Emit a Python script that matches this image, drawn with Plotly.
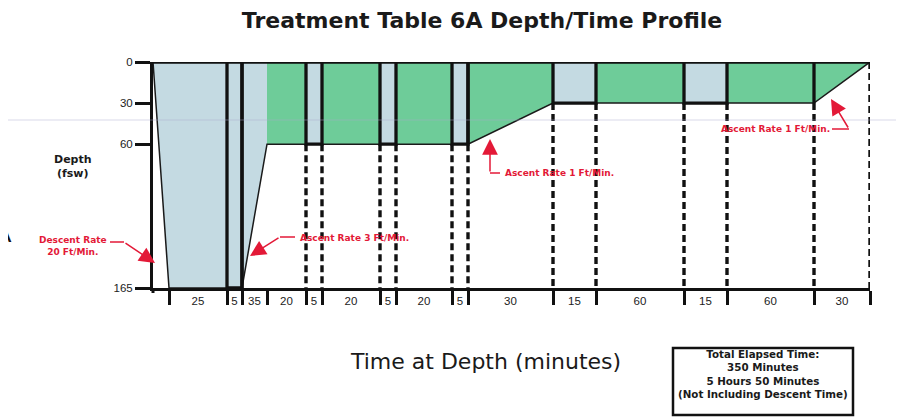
import plotly.graph_objects as go

# ---------------- data ----------------
phase_minutes = [8, 25, 5, 35, 20, 5, 20, 5, 20, 5, 30, 15, 60, 15, 60, 30]
phase_labels = ["", "25", "5", "35", "20", "5", "20", "5", "20", "5",
                "30", "15", "60", "15", "60", "30"]
start_depth = [0, 165, 165, 165, 60, 60, 60, 60, 60, 60, 60, 30, 30, 30, 30, 30]
end_depth = [165, 165, 165, 60, 60, 60, 60, 60, 60, 60, 30, 30, 30, 30, 30, 0]
breathing = ["air", "air", "air break", "air", "o2", "air break", "o2", "air break",
             "o2", "air break", "o2", "air break", "o2", "air break", "o2", "o2"]
depth_ticks = [0, 30, 60, 165]
depth_tick_text = ["0", "30", "60", "165"]

# ---------------- layout (schematic column widths; chart is not to time scale) ----------------
column_width = [16, 58, 15, 25, 39, 16, 58, 16, 56, 16, 85, 43, 88, 43, 87, 56]

W, H = 904, 419
OFF = 8  # page body margin
PL, PR, PT, PB = 153, 870, 62, 288  # plot box in page pixels
ML, MT = PL - OFF, PT - OFF
MR, MB = W - (PR - OFF), H - (PB - OFF)
PW, PH = PR - PL, PB - PT

def X(p):  # page pixel -> paper x
    return (p - PL) / PW

def Y(p):  # page pixel -> paper y
    return (PB - p) / PH

BLUE = "#C4DAE2"
GREEN = "#6ECC99"
RED = "#E31937"
fills = {"air": BLUE, "air break": BLUE, "o2": GREEN}

bounds = [0]
for w in column_width:
    bounds.append(bounds[-1] + w)
total = bounds[-1]
n = len(phase_minutes)

fig = go.Figure()

# filled areas (surface to profile)
for i in range(n):
    x0, x1 = bounds[i], bounds[i + 1]
    fig.add_trace(go.Scatter(
        x=[x0, x1, x1, x0, x0], y=[0, 0, end_depth[i], start_depth[i], 0],
        mode="lines", fill="toself", fillcolor=fills[breathing[i]],
        line=dict(width=0), hoverinfo="skip", showlegend=False))

# thin profile line
prof_y = [start_depth[0]] + end_depth
fig.add_trace(go.Scatter(x=bounds, y=prof_y, mode="lines",
                         line=dict(color="#1a1a1a", width=1.5),
                         cliponaxis=False, hoverinfo="skip", showlegend=False))

# dashed guides below boxes / ascent starts
dash_x, dash_y = [], []
solid_x, solid_y = [], []
dashed_bounds = set()
for i in range(n):
    if breathing[i] == "air break":
        x0, x1, d = bounds[i], bounds[i + 1], start_depth[i]
        solid_x += [x0, x0, x1, x1, None]
        solid_y += [0, d, d, 0, None]
        if d < 165:
            dashed_bounds.update([i, i + 1])
    if i > 0 and start_depth[i] > end_depth[i] and start_depth[i - 1] == end_depth[i - 1]:
        d = start_depth[i]
        solid_x += [bounds[i], bounds[i], None]
        solid_y += [0, d, None]
        if d < 165:
            dashed_bounds.add(i)
dashed_bounds.add(n)
for b in sorted(dashed_bounds):
    d = prof_y[b]
    dash_x += [bounds[b], bounds[b], None]
    dash_y += [d, 165, None]

fig.add_trace(go.Scatter(x=dash_x, y=dash_y, mode="lines",
                         line=dict(color="#111111", width=3.4, dash="7px,4px"),
                         cliponaxis=False, hoverinfo="skip", showlegend=False))
fig.add_trace(go.Scatter(x=solid_x, y=solid_y, mode="lines",
                         line=dict(color="#111111", width=3.3),
                         cliponaxis=False, hoverinfo="skip", showlegend=False))
# surface line
fig.add_trace(go.Scatter(x=[0, total], y=[0, 0], mode="lines",
                         line=dict(color="#111111", width=3.3),
                         cliponaxis=False, hoverinfo="skip", showlegend=False))

mids = [(bounds[i] + bounds[i + 1]) / 2 for i in range(n) if phase_labels[i]]
mid_text = [phase_labels[i] for i in range(n) if phase_labels[i]]

fig.update_xaxes(range=[0, total], showgrid=False, zeroline=False,
                 showline=True, linewidth=3, linecolor="#111111",
                 tickmode="array", tickvals=mids, ticktext=mid_text, ticks="",
                 tickfont=dict(family="Liberation Sans, Arial", size=11.5, color="#222"),
                 ticklabelstandoff=0,
                 minor=dict(tickmode="array", tickvals=bounds[1:], ticks="outside",
                            ticklen=14, tickwidth=3, tickcolor="#111111"))
fig.update_yaxes(range=[165, 0], showgrid=False, zeroline=False,
                 showline=True, linewidth=3, linecolor="#111111",
                 tickmode="array", tickvals=depth_ticks, ticktext=depth_tick_text,
                 ticks="outside", ticklen=15, tickwidth=2.5, tickcolor="#111111",
                 tickfont=dict(family="Liberation Sans, Arial", size=11.5, color="#222"))

ann = []
shapes = []
red_font = dict(family="DejaVu Sans", size=9, color=RED)
arrow = dict(showarrow=True, arrowhead=2, arrowsize=2.1, arrowwidth=1.5, arrowcolor=RED, text="",
             xref="paper", yref="paper")

# descent
ann.append(dict(xref="paper", yref="paper", x=X(73), y=Y(246), text="<b>Descent Rate<br>20 Ft/Min.</b>",
                showarrow=False, font=red_font, xanchor="center", yanchor="middle"))
shapes.append(dict(type="line", xref="paper", yref="paper", x0=X(110), x1=X(124), y0=Y(242), y1=Y(242),
                   line=dict(color=RED, width=1.5)))
ann.append(dict(arrow, x=X(155), y=Y(263), ax=124 - 155, ay=242 - 263))
# ascent 3
ann.append(dict(xref="paper", yref="paper", x=X(298), y=Y(238), text="<b>Ascent Rate 3 Ft/Min.</b>",
                showarrow=False, font=red_font, xanchor="left", yanchor="middle"))
shapes.append(dict(type="line", xref="paper", yref="paper", x0=X(280), x1=X(295), y0=Y(237), y1=Y(237),
                   line=dict(color=RED, width=1.5)))
ann.append(dict(arrow, x=X(250), y=Y(256), ax=30, ay=-19))
# ascent 1 (first)
ann.append(dict(xref="paper", yref="paper", x=X(503), y=Y(173), text="<b>Ascent Rate 1 Ft/Min.</b>",
                showarrow=False, font=red_font, xanchor="left", yanchor="middle"))
shapes.append(dict(type="line", xref="paper", yref="paper", x0=X(490), x1=X(500), y0=Y(173), y1=Y(173),
                   line=dict(color=RED, width=1.5)))
ann.append(dict(arrow, x=X(490), y=Y(139), ax=0, ay=34))
# ascent 1 (second)
ann.append(dict(xref="paper", yref="paper", x=X(775), y=Y(129), text="<b>Ascent Rate 1 Ft/Min.</b>",
                showarrow=False, font=red_font, xanchor="center", yanchor="middle"))
shapes.append(dict(type="line", xref="paper", yref="paper", x0=X(832), x1=X(849), y0=Y(129), y1=Y(129),
                   line=dict(color=RED, width=1.5)))
ann.append(dict(arrow, x=X(831), y=Y(99), ax=18, ay=30))

# axis titles
ann.append(dict(xref="paper", yref="paper", x=X(73), y=Y(166), text="<b>Depth<br>(fsw)</b>",
                showarrow=False, font=dict(family="DejaVu Sans", size=11, color="#1a1a1a"),
                xanchor="center", yanchor="middle"))
ann.append(dict(xref="paper", yref="paper", x=X(485), y=Y(361), text="Time at Depth (minutes)",
                showarrow=False, font=dict(family="DejaVu Sans", size=22, color="#1a1a1a"),
                xanchor="center", yanchor="middle"))
# summary box
shapes.append(dict(type="rect", xref="paper", yref="paper", x0=X(673), x1=X(853), y0=Y(415), y1=Y(348),
                   line=dict(color="#111111", width=2.5), fillcolor="white"))
ann.append(dict(xref="paper", yref="paper", x=X(763), y=Y(374),
                text="<b>Total Elapsed Time:<br>350 Minutes<br>5 Hours 50 Minutes<br>(Not Including Descent Time)</b>",
                showarrow=False, font=dict(family="DejaVu Sans", size=10.3, color="#1a1a1a"),
                xanchor="center", yanchor="middle"))
# stray screenshot artifacts
ann.append(dict(xref="paper", yref="paper", x=X(14), y=Y(233), text="A", showarrow=False,
                font=dict(family="Liberation Sans, Arial", size=26, color="#111"),
                xanchor="right", yanchor="middle"))
shapes.append(dict(type="line", xref="paper", yref="paper", x0=X(8), x1=X(904), y0=Y(120), y1=Y(120),
                   line=dict(color="rgba(170,170,205,0.45)", width=1), layer="above"))
shapes.append(dict(type="line", xref="paper", yref="paper", x0=0, x1=0, y0=Y(288), y1=Y(293),
                   line=dict(color="#111111", width=3)))

fig.update_layout(
    width=W, height=H, margin=dict(l=ML, r=MR, t=MT, b=MB),
    plot_bgcolor="white", paper_bgcolor="white", showlegend=False,
    title=dict(text="<b>Treatment Table 6A Depth/Time Profile</b>", x=(482 - OFF) / W, xanchor="center",
               y=1 - (20 - OFF) / H, yanchor="middle", yref="container",
               font=dict(family="DejaVu Sans", size=22, color="#1a1a1a")),
    annotations=ann, shapes=shapes)

fig.write_html("out.html")
